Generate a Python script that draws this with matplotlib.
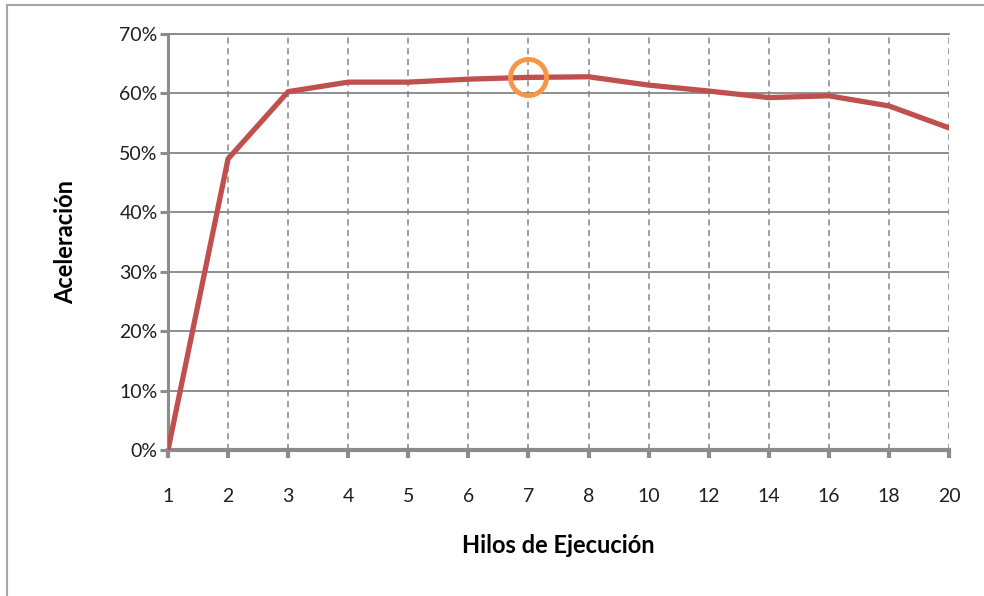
''' Aceleración frente a hilos de ejecución '''

from matplotlib import pyplot as plt
from matplotlib.lines import Line2D
from matplotlib.ticker import PercentFormatter

hilos = ["1", "2", "3", "4", "5", "6", "7", "8", "10", "12", "14", "16", "18", "20"]
aceleracion = [0, 49.0, 60.3, 61.9, 61.9, 62.4, 62.7, 62.8, 61.4, 60.4, 59.3, 59.6, 57.9, 54.2]
mejor = 6  # índice del punto resaltado (7 hilos)

grid_col = "#868686"
axis_col = "#8c8c8c"

plt.rcParams['font.family'] = ['Lato', 'DejaVu Sans']

fig = plt.figure(figsize=(9.84, 5.96), dpi=100)
ax = fig.add_axes([168 / 984, 146 / 596, 781 / 984, 416 / 596])

pos = list(range(len(hilos)))
ax.plot(pos, aceleracion, color="#c0504d", lw=3.8, solid_joinstyle="round", zorder=3)
ax.plot(pos[mejor], aceleracion[mejor], 'o', ms=26, mfc="none", mec="#f79646",
        mew=3.5, zorder=4)

ax.set_xlim(0, len(hilos) - 1)
ax.set_ylim(0, 70)
ax.set_xticks(pos)
ax.set_xticklabels(hilos)
ax.set_yticks(range(0, 71, 10))
ax.yaxis.set_major_formatter(PercentFormatter(decimals=0))

ax.yaxis.grid(True, color=grid_col, lw=1.3, ls='-')
ax.xaxis.grid(True, color=grid_col, lw=1.1, ls=(0, (4, 3)))
ax.set_axisbelow(True)

ax.spines['top'].set_color(grid_col)
ax.spines['top'].set_linewidth(1.3)
ax.spines['right'].set_visible(False)
ax.spines['left'].set_color(axis_col)
ax.spines['left'].set_linewidth(2.2)
ax.spines['bottom'].set_color(axis_col)
ax.spines['bottom'].set_linewidth(3)

ax.tick_params(axis='y', length=6, width=2.2, color=axis_col, pad=1.5,
               labelsize=14, labelcolor="#1f1f1f")
ax.tick_params(axis='x', length=6, width=3, color=axis_col, pad=21,
               labelsize=14, labelcolor="#1f1f1f")

ax.set_xlabel("Hilos de Ejecución", fontsize=17, fontweight='bold', labelpad=21)
ax.set_ylabel("Aceleración", fontsize=17, fontweight='bold', labelpad=30)

# marco exterior (solo arriba e izquierda)
fig.add_artist(Line2D([7 / 984, 1], [1 - 5 / 596, 1 - 5 / 596], color="#a6a6a6", lw=1.5,
                      transform=fig.transFigure))
fig.add_artist(Line2D([7 / 984, 7 / 984], [0, 1 - 5 / 596], color="#a6a6a6", lw=1.5,
                      transform=fig.transFigure))

fig.savefig("out.png", dpi=100)
